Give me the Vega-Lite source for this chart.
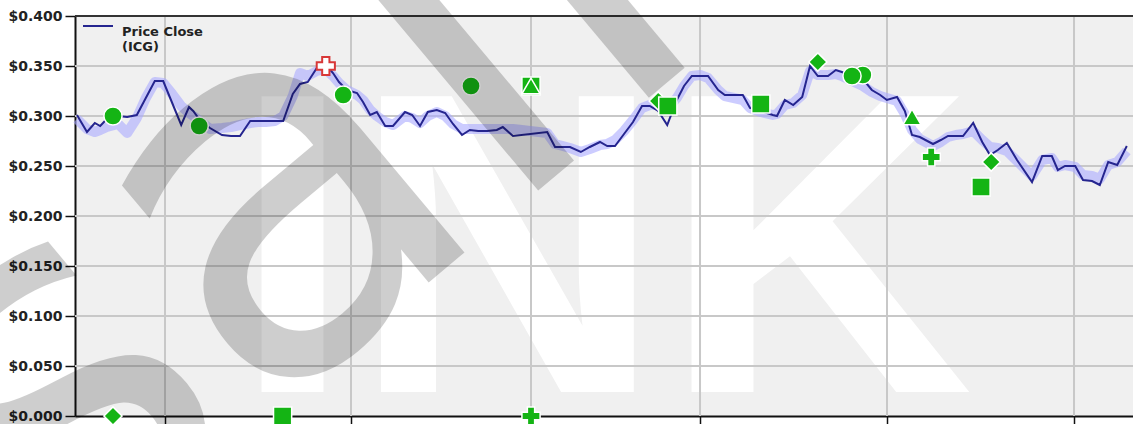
{
  "$schema": "https://vega.github.io/schema/vega-lite/v6.json",
  "width": 1058,
  "height": 400,
  "autosize": {"type": "none"},
  "padding": {"left": 75, "top": 16, "right": 0, "bottom": 8},
  "background": "white",
  "config": {
    "view": {"fill": "#f0f0f0", "stroke": null},
    "font": "DejaVu Sans"
  },
  "datasets": {
    "price": [
      {"day": 0.33, "close": 0.301, "band": 0.297},
      {"day": 2.0, "close": 0.284, "band": 0.287},
      {"day": 3.3, "close": 0.293, "band": 0.284},
      {"day": 4.2, "close": 0.290, "band": 0.286},
      {"day": 5.3, "close": 0.297, "band": 0.289},
      {"day": 7.2, "close": 0.300, "band": 0.292},
      {"day": 8.7, "close": 0.299, "band": 0.283},
      {"day": 10.3, "close": 0.301, "band": 0.298},
      {"day": 11.8, "close": 0.318, "band": 0.318},
      {"day": 13.3, "close": 0.335, "band": 0.334},
      {"day": 14.7, "close": 0.335, "band": 0.333},
      {"day": 16.2, "close": 0.313, "band": 0.322},
      {"day": 17.7, "close": 0.291, "band": 0.310},
      {"day": 19.0, "close": 0.309, "band": 0.303},
      {"day": 19.7, "close": 0.305, "band": 0.300},
      {"day": 20.8, "close": 0.296, "band": 0.295},
      {"day": 22.5, "close": 0.288, "band": 0.287},
      {"day": 24.5, "close": 0.281, "band": 0.288},
      {"day": 26.0, "close": 0.280, "band": 0.289},
      {"day": 27.5, "close": 0.280, "band": 0.291},
      {"day": 29.2, "close": 0.295, "band": 0.293},
      {"day": 30.5, "close": 0.295, "band": 0.294},
      {"day": 31.8, "close": 0.295, "band": 0.294},
      {"day": 33.3, "close": 0.295, "band": 0.295},
      {"day": 34.7, "close": 0.295, "band": 0.300},
      {"day": 36.3, "close": 0.322, "band": 0.320},
      {"day": 37.5, "close": 0.332, "band": 0.343},
      {"day": 38.8, "close": 0.334, "band": 0.340},
      {"day": 40.3, "close": 0.348, "band": 0.345},
      {"day": 41.7, "close": 0.352, "band": 0.347},
      {"day": 43.0, "close": 0.343, "band": 0.340},
      {"day": 44.0, "close": 0.334, "band": 0.333},
      {"day": 45.3, "close": 0.326, "band": 0.326},
      {"day": 47.0, "close": 0.323, "band": 0.321},
      {"day": 48.0, "close": 0.314, "band": 0.316},
      {"day": 49.2, "close": 0.301, "band": 0.306},
      {"day": 50.3, "close": 0.304, "band": 0.300},
      {"day": 51.7, "close": 0.290, "band": 0.294},
      {"day": 53.0, "close": 0.290, "band": 0.291},
      {"day": 55.0, "close": 0.304, "band": 0.300},
      {"day": 56.2, "close": 0.301, "band": 0.298},
      {"day": 57.5, "close": 0.290, "band": 0.293},
      {"day": 58.8, "close": 0.304, "band": 0.300},
      {"day": 60.3, "close": 0.306, "band": 0.304},
      {"day": 61.7, "close": 0.303, "band": 0.300},
      {"day": 63.0, "close": 0.292, "band": 0.292},
      {"day": 64.5, "close": 0.281, "band": 0.287},
      {"day": 65.8, "close": 0.286, "band": 0.287},
      {"day": 67.2, "close": 0.285, "band": 0.287},
      {"day": 68.7, "close": 0.285, "band": 0.287},
      {"day": 70.3, "close": 0.286, "band": 0.287},
      {"day": 71.3, "close": 0.289, "band": 0.287},
      {"day": 73.0, "close": 0.280, "band": 0.287},
      {"day": 78.7, "close": 0.284, "band": 0.283},
      {"day": 80.0, "close": 0.269, "band": 0.272},
      {"day": 81.3, "close": 0.269, "band": 0.270},
      {"day": 82.5, "close": 0.269, "band": 0.268},
      {"day": 84.3, "close": 0.264, "band": 0.264},
      {"day": 85.8, "close": 0.269, "band": 0.267},
      {"day": 87.5, "close": 0.274, "band": 0.271},
      {"day": 88.7, "close": 0.270, "band": 0.272},
      {"day": 90.0, "close": 0.270, "band": 0.276},
      {"day": 91.5, "close": 0.282, "band": 0.285},
      {"day": 93.0, "close": 0.294, "band": 0.296},
      {"day": 94.5, "close": 0.310, "band": 0.308},
      {"day": 95.8, "close": 0.310, "band": 0.311},
      {"day": 97.2, "close": 0.305, "band": 0.312},
      {"day": 98.7, "close": 0.291, "band": 0.308},
      {"day": 100.3, "close": 0.316, "band": 0.318},
      {"day": 101.5, "close": 0.330, "band": 0.330},
      {"day": 102.8, "close": 0.340, "band": 0.340},
      {"day": 104.2, "close": 0.340, "band": 0.341},
      {"day": 105.5, "close": 0.340, "band": 0.338},
      {"day": 107.2, "close": 0.326, "band": 0.326},
      {"day": 108.3, "close": 0.321, "band": 0.320},
      {"day": 109.8, "close": 0.321, "band": 0.318},
      {"day": 111.3, "close": 0.321, "band": 0.316},
      {"day": 112.5, "close": 0.308, "band": 0.308},
      {"day": 114.3, "close": 0.305, "band": 0.304},
      {"day": 116.3, "close": 0.301, "band": 0.301},
      {"day": 117.0, "close": 0.300, "band": 0.302},
      {"day": 118.3, "close": 0.316, "band": 0.311},
      {"day": 119.7, "close": 0.311, "band": 0.313},
      {"day": 121.2, "close": 0.319, "band": 0.321},
      {"day": 122.5, "close": 0.350, "band": 0.345},
      {"day": 123.8, "close": 0.340, "band": 0.341},
      {"day": 125.5, "close": 0.340, "band": 0.341},
      {"day": 126.8, "close": 0.346, "band": 0.342},
      {"day": 127.8, "close": 0.344, "band": 0.340},
      {"day": 129.5, "close": 0.340, "band": 0.335},
      {"day": 131.3, "close": 0.337, "band": 0.330},
      {"day": 132.8, "close": 0.326, "band": 0.324},
      {"day": 134.2, "close": 0.321, "band": 0.320},
      {"day": 135.3, "close": 0.316, "band": 0.318},
      {"day": 137.0, "close": 0.319, "band": 0.315},
      {"day": 138.3, "close": 0.305, "band": 0.302},
      {"day": 139.5, "close": 0.281, "band": 0.286},
      {"day": 140.8, "close": 0.279, "band": 0.277},
      {"day": 143.0, "close": 0.272, "band": 0.270},
      {"day": 144.3, "close": 0.276, "band": 0.274},
      {"day": 145.5, "close": 0.280, "band": 0.279},
      {"day": 146.8, "close": 0.280, "band": 0.281},
      {"day": 148.0, "close": 0.280, "band": 0.282},
      {"day": 149.7, "close": 0.293, "band": 0.285},
      {"day": 151.2, "close": 0.274, "band": 0.276},
      {"day": 152.5, "close": 0.261, "band": 0.269},
      {"day": 153.8, "close": 0.266, "band": 0.268},
      {"day": 155.3, "close": 0.273, "band": 0.265},
      {"day": 157.0, "close": 0.256, "band": 0.255},
      {"day": 159.5, "close": 0.234, "band": 0.240},
      {"day": 161.2, "close": 0.260, "band": 0.256},
      {"day": 162.8, "close": 0.260, "band": 0.258},
      {"day": 163.8, "close": 0.246, "band": 0.249},
      {"day": 165.0, "close": 0.250, "band": 0.251},
      {"day": 166.7, "close": 0.250, "band": 0.249},
      {"day": 168.0, "close": 0.236, "band": 0.241},
      {"day": 169.5, "close": 0.235, "band": 0.240},
      {"day": 170.8, "close": 0.231, "band": 0.237},
      {"day": 172.2, "close": 0.254, "band": 0.251},
      {"day": 173.7, "close": 0.251, "band": 0.254},
      {"day": 175.3, "close": 0.270, "band": 0.265}
    ],
    "signals": [
      {"day": 6.33, "price": 0.300, "signal": "circle"},
      {"day": 20.7, "price": 0.290, "signal": "circle"},
      {"day": 44.7, "price": 0.321, "signal": "circle"},
      {"day": 66.0, "price": 0.330, "signal": "circle"},
      {"day": 76.0, "price": 0.330, "signal": "square"},
      {"day": 76.0, "price": 0.330, "signal": "triangle"},
      {"day": 97.2, "price": 0.315, "signal": "diamond"},
      {"day": 98.8, "price": 0.310, "signal": "square"},
      {"day": 114.3, "price": 0.312, "signal": "square"},
      {"day": 123.8, "price": 0.354, "signal": "diamond"},
      {"day": 131.3, "price": 0.341, "signal": "circle"},
      {"day": 129.5, "price": 0.340, "signal": "circle"},
      {"day": 139.5, "price": 0.299, "signal": "triangle"},
      {"day": 142.7, "price": 0.259, "signal": "cross"},
      {"day": 151.0, "price": 0.229, "signal": "square"},
      {"day": 152.7, "price": 0.254, "signal": "diamond"},
      {"day": 6.33, "price": 0.0, "signal": "diamond"},
      {"day": 34.6, "price": 0.0, "signal": "square"},
      {"day": 76.0, "price": 0.0, "signal": "cross"}
    ],
    "alerts": [
      {"day": 41.8, "price": 0.350}
    ],
    "hgrid": [
      {"v": 0.05}, {"v": 0.10}, {"v": 0.15}, {"v": 0.20}, {"v": 0.25}, {"v": 0.30}, {"v": 0.35}
    ],
    "vgrid": [
      {"v": 15}, {"v": 46}, {"v": 76}, {"v": 104.17}, {"v": 135.33}, {"v": 166.5}
    ],
    "one": [{}]
  },
  "layer": [
    {
      "data": {"name": "one"},
      "mark": {"type": "text", "text": "INK", "font": "Liberation Sans", "fontWeight": "bold", "fontSize": 430, "color": "white", "align": "center", "baseline": "alphabetic"},
      "encoding": {
        "x": {"datum": 88.0, "type": "quantitative", "title": null},
        "y": {"datum": 0.024, "type": "quantitative", "title": null}
      }
    },
    {
      "data": {"name": "hgrid"},
      "mark": {"type": "rule", "color": "#c8c8c8", "strokeWidth": 2},
      "encoding": {"y": {"field": "v", "type": "quantitative", "title": null}}
    },
    {
      "data": {"name": "vgrid"},
      "mark": {"type": "rule", "color": "#c8c8c8", "strokeWidth": 2},
      "encoding": {"x": {"field": "v", "type": "quantitative", "title": null}}
    },
    {
      "data": {"name": "price"},
      "mark": {"type": "line", "color": "#aaaaff", "opacity": 0.6, "strokeWidth": 10, "strokeJoin": "round", "strokeCap": "butt"},
      "encoding": {
        "x": {"field": "day", "type": "quantitative", "title": null},
        "y": {"field": "band", "type": "quantitative", "title": null}
      }
    },
    {
      "data": {"name": "price"},
      "mark": {"type": "line", "strokeWidth": 2},
      "encoding": {
        "x": {
          "field": "day", "type": "quantitative", "title": null,
          "scale": {"domain": [0, 176.33], "nice": false, "zero": false},
          "axis": {"values": [15, 46, 76, 104.17, 135.33, 166.5], "labels": false, "grid": false, "domain": true, "domainColor": "#111", "domainWidth": 2, "ticks": true, "tickColor": "#111", "tickSize": 8, "tickWidth": 1.5, "title": null}
        },
        "y": {
          "field": "close", "type": "quantitative", "title": null,
          "scale": {"domain": [0, 0.4], "nice": false, "zero": false},
          "axis": {"values": [0, 0.05, 0.1, 0.15, 0.2, 0.25, 0.3, 0.35, 0.4], "format": "$.3f", "grid": false, "domain": true, "domainColor": "#111", "domainWidth": 2, "tickColor": "#111", "tickSize": 10, "tickWidth": 1.5, "labelFont": "DejaVu Sans", "labelFontWeight": "bold", "labelFontSize": 14, "labelColor": "#222", "labelPadding": 3, "title": null}
        },
        "color": {
          "datum": "Price Close",
          "scale": {"range": ["#25258f"]},
          "legend": {"orient": "none", "legendX": 3, "legendY": -10, "padding": 4, "title": null, "symbolType": "stroke", "symbolStrokeWidth": 2, "symbolSize": 900, "labelFont": "DejaVu Sans", "labelFontWeight": "bold", "labelFontSize": 13, "labelColor": "#222", "labelOffset": 8, "labelBaseline": "top", "labelExpr": "['Price Close', '(ICG)']"}
        }
      }
    },
    {
      "data": {"name": "one"},
      "mark": {"type": "rule", "color": "#333333", "strokeWidth": 2},
      "encoding": {"y": {"datum": 0.4, "type": "quantitative", "title": null}}
    },
    {
      "data": {"name": "signals"},
      "mark": {"type": "point", "filled": true, "color": "#14b414", "stroke": "white", "strokeWidth": 1.5, "opacity": 1, "size": 330},
      "encoding": {
        "x": {"field": "day", "type": "quantitative", "title": null},
        "y": {"field": "price", "type": "quantitative", "title": null},
        "shape": {"field": "signal", "type": "nominal", "legend": null, "scale": {"domain": ["circle", "square", "diamond", "triangle", "cross"], "range": ["circle", "square", "diamond", "triangle-up", "cross"]}}
      }
    },
    {
      "data": {"name": "alerts"},
      "mark": {"type": "point", "shape": "cross", "filled": false, "fill": "white", "stroke": "#d83838", "strokeWidth": 2, "opacity": 1, "size": 330},
      "encoding": {
        "x": {"field": "day", "type": "quantitative", "title": null},
        "y": {"field": "price", "type": "quantitative", "title": null}
      }
    },
    {
      "data": {"name": "one"},
      "mark": {"type": "text", "text": "sail", "font": "DejaVu Sans", "fontSize": 520, "angle": 320, "align": "left", "baseline": "alphabetic", "color": "black", "opacity": 0.19},
      "encoding": {
        "x": {"datum": -4.33, "type": "quantitative", "title": null},
        "y": {"datum": -0.185, "type": "quantitative", "title": null}
      }
    }
  ]
}
